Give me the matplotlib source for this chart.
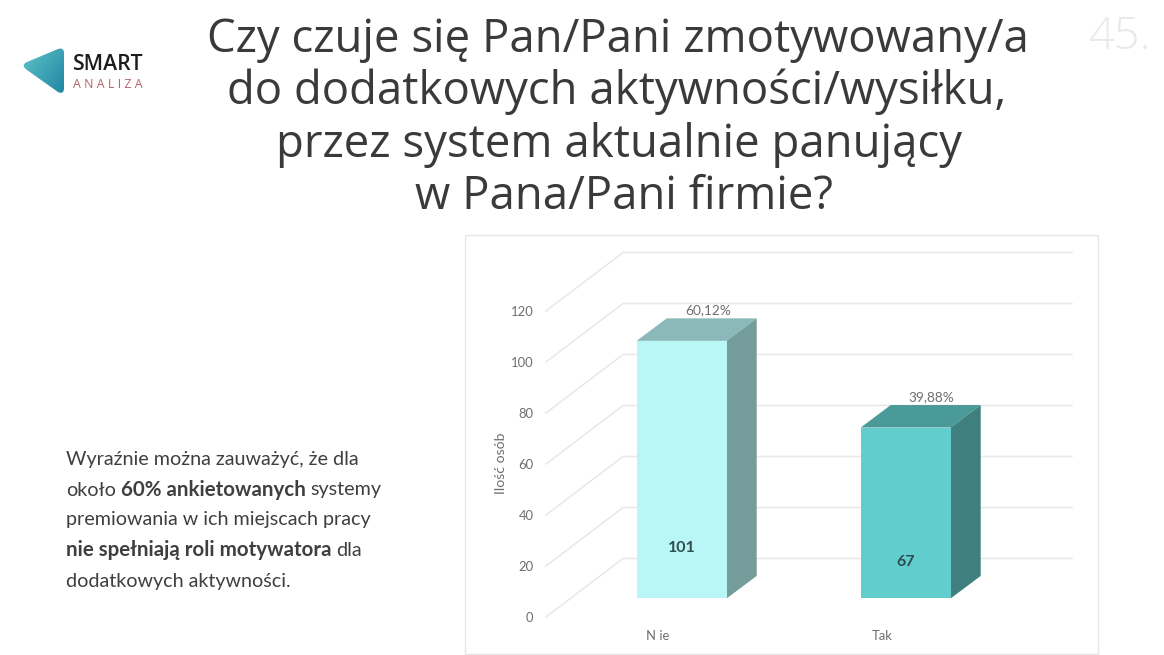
import numpy as np
import matplotlib
matplotlib.use("Agg")
import matplotlib.pyplot as plt
from matplotlib.patches import PathPatch, Rectangle
from matplotlib.path import Path

categories = ["Nie", "Tak"]
counts = [101, 67]
shares = ["60,12%", "39,88%"]
y_ticks = [0, 20, 40, 60, 80, 100, 120]
title_lines = ["Czy czuje się Pan/Pani zmotywowany/a",
               "do dodatkowych aktywności/wysiłku,",
               "przez system aktualnie panujący",
               "w Pana/Pani firmie?"]

W, H = 1164, 655
fig = plt.figure(figsize=(W / 100, H / 100), dpi=100, facecolor="white")

# page layer in pixel coordinates
page = fig.add_axes([0, 0, 1, 1])
page.set_xlim(0, W)
page.set_ylim(H, 0)
page.axis("off")
page.add_patch(Rectangle((464.5, 234.5), 633, 419, fc="white", ec="#e6e6e6", lw=1.0))

# logo
verts = [(27, 62), (58, 49), (64, 47), (64, 53), (64, 88), (64, 95), (58, 92), (27, 70), (20, 65), (27, 62), (27, 62)]
codes = [Path.MOVETO, Path.LINETO, Path.CURVE3, Path.CURVE3, Path.LINETO, Path.CURVE3, Path.CURVE3,
         Path.LINETO, Path.CURVE3, Path.CURVE3, Path.CLOSEPOLY]
gx, gy = np.meshgrid(np.linspace(0, 1, 60), np.linspace(0, 1, 60))
grad = gx * 0.55 + gy * 0.45
cmap = matplotlib.colors.LinearSegmentedColormap.from_list("logo", ["#62c8c8", "#1f83a3"])
im = page.imshow(grad, extent=(20, 65, 96, 46), cmap=cmap, aspect="auto", zorder=3)
clip = PathPatch(Path(verts, codes), fc="none", ec="none", transform=page.transData)
page.add_patch(clip)
im.set_clip_path(clip)
page.set_xlim(0, W)
page.set_ylim(H, 0)
page.text(73, 64, "SMART", family="Open Sans", weight="semibold", fontsize=15.2, color="#1d1d1d", va="center", ha="left")
page.text(73, 84.5, "A N A L I Z A", family="Open Sans", fontsize=8.9, color="#b4606a", va="center", ha="left")

# title
for line, xx, yy in zip(title_lines, [618, 617, 619, 624], [40, 92, 145, 197]):
    page.text(xx, yy, line, family="Open Sans", fontsize=32.8, color="#3a3a3c", ha="center", va="center")
page.text(1088, 38, "45.", family="Open Sans", weight="light", fontsize=32.5, color="#e9e9e9", ha="left", va="center")

# body text with bold runs
body = [[("Wyraźnie można zauważyć, że dla", False)],
        [("około ", False), ("60% ankietowanych", True), (" systemy", False)],
        [("premiowania w ich miejscach pracy", False)],
        [("nie spełniają roli motywatora", True), (" dla", False)],
        [("dodatkowych aktywności.", False)]]
renderer = fig.canvas.get_renderer()
for runs, yy in zip(body, [459, 490, 520, 550, 581]):
    x = 66
    for s, b in runs:
        lead = len(s) - len(s.lstrip())
        trail = len(s) - len(s.rstrip())
        t = page.text(x, yy, s.strip(), family="Lato", weight="bold" if b else "normal",
                      fontsize=14.8 if b else 14.2, color="#3f3f3f", ha="left", va="center")
        space = 5
        x += lead * space
        t.set_x(x)
        x += t.get_window_extent(renderer).width + trail * space

# chart axes: left edge is the front of the wall, value 0 at pixel 617, 2.55 px per unit
L, R, B, T = 546, 1072, 617, 252
ax = fig.add_axes([L / W, 1 - B / H, (R - L) / W, (B - T) / H], facecolor="none")
PXU = 224.0
PXV = 2.55
ax.set_xlim((L - 658) / PXU, (R - 658) / PXU)
ax.set_ylim(0, (B - T) / PXV)
for s in ax.spines.values():
    s.set_visible(False)
ax.set_xticks(range(len(categories)), ["N ie", "Tak"])
ax.set_yticks(y_ticks)
ax.tick_params(length=0, labelcolor="#6e6e6e", labelsize=9.4)
ax.tick_params(axis="y", pad=9)
ax.tick_params(axis="x", pad=9)
for lab in ax.get_xticklabels() + ax.get_yticklabels():
    lab.set_family("Lato")
ax.set_ylabel("Ilość osób", family="Lato", fontsize=10.2, color="#6e6e6e", labelpad=14)
ax.yaxis.set_label_coords(-(546 - 507) / (R - L), (B - 463) / (B - T))

wall_dx = 77 / PXU
wall_dy = 58.5 / PXV
for v in y_ticks:
    ax.plot([ax.get_xlim()[0], ax.get_xlim()[0] + wall_dx, ax.get_xlim()[1]],
            [v, v + wall_dy, v + wall_dy], color="#e8e8e8", lw=1.1, zorder=1, clip_on=False)

face_colors = [("#b9f6f6", "#8bb9b9", "#739c9b"), ("#61cdcd", "#4a9a9a", "#3f7f7d")]
bw = 90 / PXU
off_x = 23.7 / PXU
off_y = 18.6 / PXV
dep_x = 30 / PXU
dep_y = 22.5 / PXV
label_heights = [19.6, 14.2]
for i, (n, pct) in enumerate(zip(counts, shares)):
    c_front, c_top, c_side = face_colors[i]
    x0 = i + off_x - bw / 2
    x1 = x0 + bw
    y0 = off_y
    y1 = off_y + n
    ax.fill([x0, x1, x1, x0], [y0, y0, y1, y1], color=c_front, lw=0, zorder=4)
    ax.fill([x0, x1, x1 + dep_x, x0 + dep_x], [y1, y1, y1 + dep_y, y1 + dep_y], color=c_top, lw=0, zorder=3)
    ax.fill([x1, x1 + dep_x, x1 + dep_x, x1], [y0, y0 + dep_y, y1 + dep_y, y1], color=c_side, lw=0, zorder=3)
    ax.text((x0 + x1) / 2, y0 + label_heights[i], str(n), family="Lato", weight="bold", fontsize=11.5,
            color="#2f4f4f", ha="center", va="center", zorder=5)
    ax.text((x0 + x1) / 2 + dep_x - 4 / PXU, y1 + dep_y + 8 / PXV, pct, family="Lato", fontsize=9.8,
            color="#6e6e6e", ha="center", va="center", zorder=5)

fig.savefig("out.png", dpi=100, facecolor="white")
